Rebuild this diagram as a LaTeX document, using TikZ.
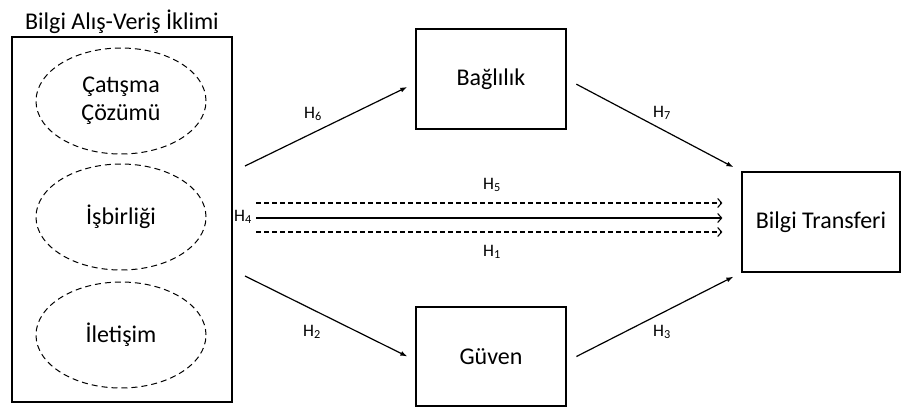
\documentclass[tikz,border=0pt]{standalone}
\usepackage{fontspec}
\setmainfont{Carlito}
\usetikzlibrary{shapes.geometric,arrows.meta}

\begin{document}
\begin{tikzpicture}[x=1pt, y=-1pt,
    every node/.style={font=\fontsize{24}{28}\selectfont},
    factor/.style={draw, line width=1.2pt, rectangle, minimum width=150pt, minimum height=100pt},
    dim/.style={draw, dashed, dash pattern=on 6pt off 4pt, line width=1pt, ellipse, inner sep=0pt, minimum width=170pt, minimum height=106pt, align=center},
    hyp/.style={font=\fontsize{17.5}{19}\selectfont, inner sep=0pt},
    path/.style={line width=1.2pt, -{Latex[length=7pt,width=5pt]}},
    direct/.style={line width=1.1pt, -{Straight Barb[length=4pt,width=9pt]}, shorten >=19pt}]
  \useasboundingbox (0,0) rectangle (904,407);
  \node[inner sep=0pt] (title) at (122,22) {Bilgi Alış-Veriş İklimi};
  \node[draw, line width=1.2pt, rectangle, minimum width=220pt, minimum height=365pt] (climate) at (122,219.5) {};
  \node[dim] (conflict) at (121,101) {Çatışma\\Çözümü};
  \node[dim] (coop) at (121,217) {İşbirliği};
  \node[dim] (comm) at (121,335) {İletişim};
  \node[factor] (commit) at (491,79) {Bağlılık};
  \node[factor, minimum height=99pt] (trust) at (491,356.5) {Güven};
  \node[factor, minimum width=158pt] (transfer) at (821,222) {Bilgi Transferi};
  \coordinate (h6s) at (245,166);
  \coordinate (h2s) at (245,276);
  \coordinate (h5s) at (256,203);
  \coordinate (h4s) at (256,218);
  \coordinate (h1s) at (256,232);
  % Draw the mediated paths
  \draw[path, shorten >=9pt] (h6s) -- ([yshift=-4pt]commit.west);
  \draw[path, shorten >=9pt] (h2s) -- ([yshift=-4pt]trust.west);
  \draw[path, shorten <=11pt, shorten >=9pt] (commit.east) -- (transfer.north west);
  \draw[path, shorten <=11pt, shorten >=9pt] ([yshift=-5pt]trust.east) -- (transfer.south west);
  % Draw the direct paths
  \draw[direct, dash pattern=on 5pt off 3pt] (h5s) -- (h5s -| transfer.west);
  \draw[direct] (h4s) -- (h4s -| transfer.west);
  \draw[direct, dash pattern=on 5pt off 3pt] (h1s) -- (h1s -| transfer.west);
  \node[hyp] (l6) at (313,114) {H\textsubscript{6}};
  \node[hyp] (l7) at (662,113) {H\textsubscript{7}};
  \node[hyp] (l5) at (492,185) {H\textsubscript{5}};
  \node[hyp] (l4) at (243,217) {H\textsubscript{4}};
  \node[hyp] (l1) at (492,252) {H\textsubscript{1}};
  \node[hyp] (l2) at (312,332) {H\textsubscript{2}};
  \node[hyp] (l3) at (662,332) {H\textsubscript{3}};
\end{tikzpicture}
\end{document}
